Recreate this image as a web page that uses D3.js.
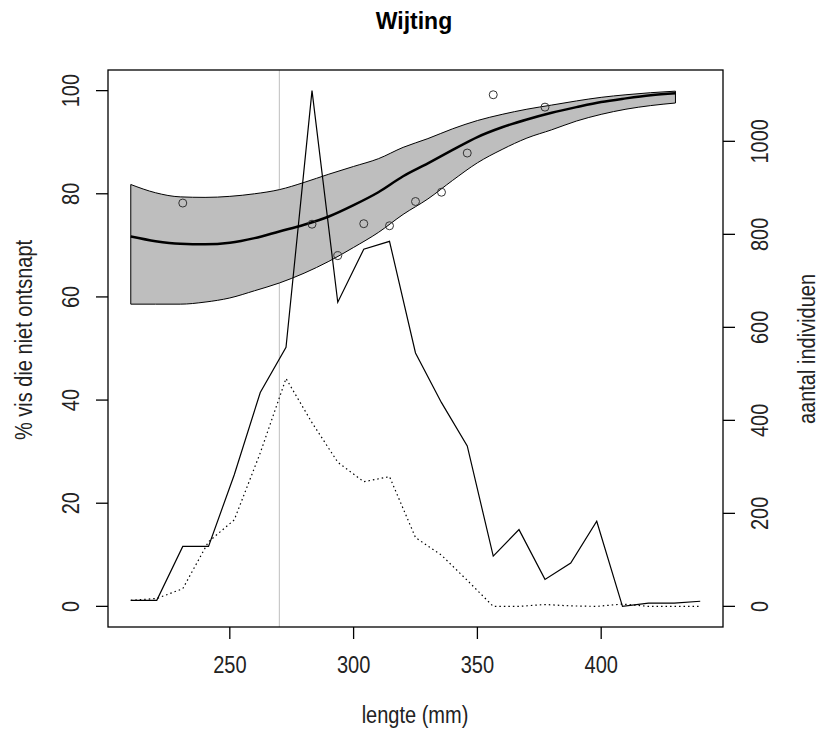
<!DOCTYPE html>
<html>
<head>
<meta charset="utf-8">
<script src="https://cdn.jsdelivr.net/npm/d3@7"></script>
<style>
  body { margin: 0; background: #fff; }
  text { font-family: "Liberation Sans", Arial, sans-serif; }
</style>
</head>
<body>
<div id="chart"></div>
<script>
// length classes (mm) of the catch counts
var lengths = [210, 220.5, 231, 241.4, 251.8, 262.3, 272.7, 283.2, 293.6, 304.1, 314.5, 325,
    335.5, 345.9, 356.4, 366.8, 377.3, 387.7, 398.2, 408.6, 419.1, 429.5, 440];
// number of individuals, solid line
var countsA = [13, 13, 129, 129, 283, 460, 557, 1109, 654, 768, 785, 545,
    438, 345, 108, 165, 58, 93, 183, 0, 7, 7, 11];
// number of individuals, dotted line
var countsB = [13, 17, 38, 139, 186, 330, 490, 395, 310, 268, 279, 148,
    110, 56, 0, 0, 4, 1, 0, 5, 0, 0, 0];

// observed percentages (circles)
var obsX = [231, 283.2, 293.6, 304.1, 314.5, 325, 335.5, 345.9, 356.4, 377.3];
var obsY = [78.2, 74.1, 68.0, 74.2, 73.8, 78.5, 80.3, 87.9, 99.2, 96.8];

// fitted curve with confidence band
var fitX = [210, 220, 230, 240, 250, 260, 270, 280, 290, 300, 310, 320,
    330, 340, 350, 360, 370, 380, 390, 400, 410, 420, 430];
var fitMean = [71.7, 70.8, 70.3, 70.2, 70.5, 71.4, 72.7, 74.0, 75.6, 77.8, 80.3, 83.4,
    85.9, 88.5, 91.0, 92.9, 94.4, 95.7, 96.8, 97.8, 98.5, 99.1, 99.5];
var fitUpper = [81.8, 80.2, 79.4, 79.3, 79.5, 80.0, 80.8, 82.2, 83.8, 85.3, 86.8, 89.0,
    90.7, 92.6, 94.2, 95.4, 96.4, 97.2, 98.0, 98.7, 99.2, 99.6, 99.9];
var fitLower = [58.6, 58.6, 58.6, 59.0, 59.8, 61.2, 62.7, 64.6, 66.9, 69.6, 72.5, 76.0,
    79.0, 82.6, 86.0, 88.6, 90.8, 92.4, 94.1, 95.4, 96.4, 97.1, 97.6];

var xTicks = [250, 300, 350, 400];
var yTicksLeft = [0, 20, 40, 60, 80, 100];
var yTicksRight = [0, 200, 400, 600, 800, 1000];
var cutLength = 270;

var width = 822, height = 729;
var box = {left: 108, right: 723, top: 70, bottom: 627};
var fs = 23;
var narrow = " scale(0.87,1)"; // the labels in the original are set in a condensed face

var svg = d3.select("#chart").append("svg")
    .attr("width", width)
    .attr("height", height);

svg.append("rect").attr("width", width).attr("height", height).attr("fill", "#fff");

// R style 4% extension of the ranges
function pad(ext) {
    var d = (ext[1] - ext[0]) * 0.04;
    return [ext[0] - d, ext[1] + d];
}

var x = d3.scaleLinear().domain(pad(d3.extent(lengths))).range([box.left, box.right]);
var yL = d3.scaleLinear().domain(pad([0, 100])).range([box.bottom, box.top]);
var yR = d3.scaleLinear().domain(pad([0, d3.max(countsA)])).range([box.bottom, box.top]);

// vertical reference line
svg.append("line")
    .attr("x1", x(cutLength)).attr("x2", x(cutLength))
    .attr("y1", box.top).attr("y2", box.bottom)
    .attr("stroke", "#bebebe")
    .attr("stroke-width", 1);

// confidence band
var band = d3.area()
    .curve(d3.curveMonotoneX)
    .x((d, i) => x(d))
    .y0((d, i) => yL(fitLower[i]))
    .y1((d, i) => yL(fitUpper[i]));
svg.append("path")
    .attr("d", band(fitX))
    .attr("fill", "#bebebe")
    .attr("stroke", "#000")
    .attr("stroke-width", 1);

var fitLine = d3.line().curve(d3.curveMonotoneX).x(d => x(d[0])).y(d => yL(d[1]));
svg.append("path")
    .attr("d", fitLine(fitX.map((d, i) => [d, fitMean[i]])))
    .attr("fill", "none")
    .attr("stroke", "#000")
    .attr("stroke-width", 2.5);

// observed points
svg.selectAll("circle.obs")
    .data(obsX)
    .enter().append("circle")
    .attr("class", "obs")
    .attr("cx", d => x(d))
    .attr("cy", (d, i) => yL(obsY[i]))
    .attr("r", 4)
    .attr("fill", "none")
    .attr("stroke", "#333")
    .attr("stroke-width", 1);

// counts
var countLine = d3.line().x(d => x(d[0])).y(d => yR(d[1]));
svg.append("path")
    .attr("d", countLine(lengths.map((d, i) => [d, countsA[i]])))
    .attr("fill", "none")
    .attr("stroke", "#000")
    .attr("stroke-width", 1.2);
svg.append("path")
    .attr("d", countLine(lengths.map((d, i) => [d, countsB[i]])))
    .attr("fill", "none")
    .attr("stroke", "#000")
    .attr("stroke-width", 1.2)
    .attr("stroke-dasharray", "1.5,3");

// box
svg.append("rect")
    .attr("x", box.left).attr("y", box.top)
    .attr("width", box.right - box.left).attr("height", box.bottom - box.top)
    .attr("fill", "none")
    .attr("stroke", "#000")
    .attr("stroke-width", 1.3);

// axes
var tickLen = 12;
var bottomAxis = svg.append("g");
bottomAxis.selectAll("line.tick").data(xTicks).enter().append("line")
    .attr("x1", d => x(d)).attr("x2", d => x(d))
    .attr("y1", box.bottom).attr("y2", box.bottom + tickLen)
    .attr("stroke", "#000").attr("stroke-width", 1.3);
bottomAxis.selectAll("text").data(xTicks).enter().append("text")
    .attr("transform", d => "translate(" + x(d) + ",673)" + narrow)
    .attr("text-anchor", "middle")
    .attr("font-size", fs)
    .attr("fill", "#222")
    .text(d => d);

var leftAxis = svg.append("g");
leftAxis.selectAll("line").data(yTicksLeft).enter().append("line")
    .attr("x1", box.left - tickLen).attr("x2", box.left)
    .attr("y1", d => yL(d)).attr("y2", d => yL(d))
    .attr("stroke", "#000").attr("stroke-width", 1.3);
leftAxis.selectAll("text").data(yTicksLeft).enter().append("text")
    .attr("transform", d => "translate(79," + yL(d) + ") rotate(-90)" + narrow)
    .attr("text-anchor", "middle")
    .attr("font-size", fs)
    .attr("fill", "#222")
    .text(d => d);

var rightAxis = svg.append("g");
rightAxis.selectAll("line").data(yTicksRight).enter().append("line")
    .attr("x1", box.right).attr("x2", box.right + tickLen)
    .attr("y1", d => yR(d)).attr("y2", d => yR(d))
    .attr("stroke", "#000").attr("stroke-width", 1.3);
rightAxis.selectAll("text").data(yTicksRight).enter().append("text")
    .attr("transform", d => "translate(768," + yR(d) + ") rotate(-90)" + narrow)
    .attr("text-anchor", "middle")
    .attr("font-size", fs)
    .attr("fill", "#222")
    .text(d => d);

// titles
svg.append("text")
    .attr("x", 414).attr("y", 29)
    .attr("text-anchor", "middle")
    .attr("font-size", 23)
    .attr("font-weight", "bold")
    .text("Wijting");

svg.append("text")
    .attr("transform", "translate(415,723)" + narrow)
    .attr("text-anchor", "middle")
    .attr("font-size", fs)
    .attr("fill", "#222")
    .text("lengte (mm)");

svg.append("text")
    .attr("transform", "translate(32,340) rotate(-90)" + narrow)
    .attr("text-anchor", "middle")
    .attr("font-size", fs)
    .attr("fill", "#222")
    .text("% vis die niet ontsnapt");

svg.append("text")
    .attr("transform", "translate(815,349) rotate(-90)" + narrow)
    .attr("text-anchor", "middle")
    .attr("font-size", fs)
    .attr("fill", "#222")
    .text("aantal individuen");
</script>
</body>
</html>
